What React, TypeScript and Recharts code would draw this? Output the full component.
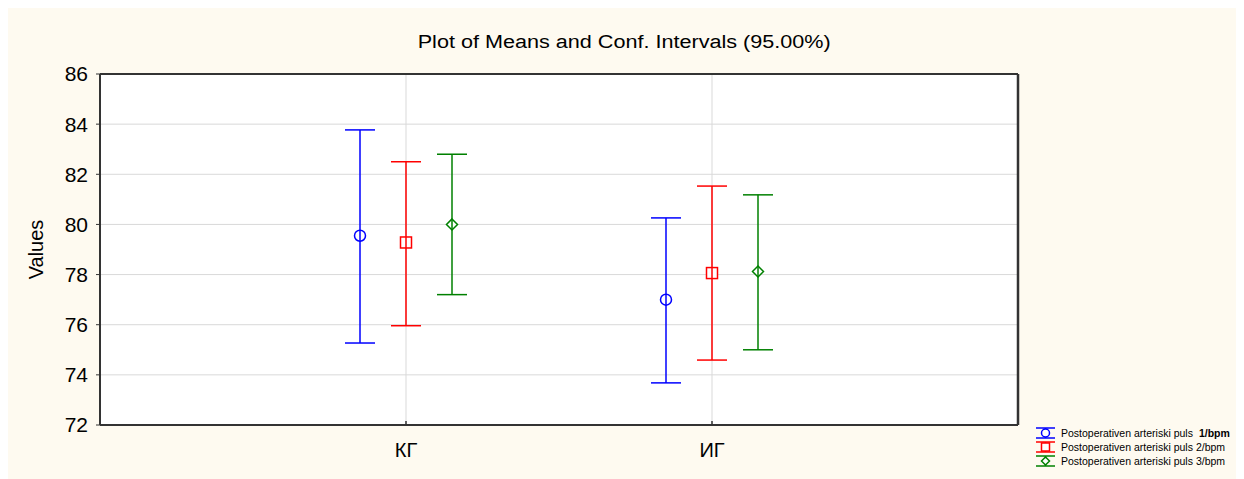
import React from 'react';
import {
  ComposedChart,
  Bar,
  ErrorBar,
  XAxis,
  YAxis,
  CartesianGrid,
  Legend,
  Label
} from 'recharts';

const groups = ['КГ', 'ИГ'];
const seriesNames = [
  'Postoperativen arteriski puls 1/bpm',
  'Postoperativen arteriski puls 2/bpm',
  'Postoperativen arteriski puls 3/bpm'
];
const seriesColors = ['#0000ff', '#ff0000', '#008000'];
const seriesMarkers = ['circle', 'square', 'diamond'];

// means and 95% confidence limits, one value per group
const puls1Mean = [79.55, 77.0];
const puls1Low = [75.27, 73.68];
const puls1High = [83.77, 80.26];
const puls2Mean = [79.28, 78.06];
const puls2Low = [75.96, 74.59];
const puls2High = [82.5, 81.53];
const puls3Mean = [80.0, 78.12];
const puls3Low = [77.2, 75.0];
const puls3High = [82.8, 81.18];

const yTicks = [72, 74, 76, 78, 80, 82, 84, 86];

const means = [puls1Mean, puls2Mean, puls3Mean];
const lows = [puls1Low, puls2Low, puls3Low];
const highs = [puls1High, puls2High, puls3High];

const data = groups.map((group, i) => {
  const row: Record<string, any> = { group };
  means.forEach((m, s) => {
    row[`m${s}`] = m[i];
    row[`e${s}`] = [m[i] - lows[s][i], highs[s][i] - m[i]];
  });
  return row;
});

const FONT = '"Liberation Sans", Arial, sans-serif';
const AXIS = '#333333';
const GRID = '#d9d9d9';

const Marker = ({ kind, cx, cy, size, color }: any) => {
  const h = size / 2;
  if (kind === 'circle') {
    return <circle cx={cx} cy={cy} r={h} fill="#fff" stroke={color} strokeWidth={1.5} />;
  }
  if (kind === 'square') {
    return <rect x={cx - h} y={cy - h} width={size} height={size} fill="#fff" stroke={color} strokeWidth={1.5} />;
  }
  return (
    <polygon
      points={`${cx},${cy - h} ${cx + h},${cy} ${cx},${cy + h} ${cx - h},${cy}`}
      fill="#fff"
      stroke={color}
      strokeWidth={1.5}
    />
  );
};

const renderLegend = () => (
  <svg width={212} height={48} style={{ display: 'block' }}>
    {seriesNames.map((name, i) => {
      const cy = 11 + i * 14;
      const color = seriesColors[i];
      const parts = name.split(' ');
      const unit = parts.pop();
      return (
        <g key={name}>
          <line x1={2} x2={21} y1={cy - 5} y2={cy - 5} stroke={color} strokeWidth={1.5} />
          <line x1={2} x2={21} y1={cy + 5} y2={cy + 5} stroke={color} strokeWidth={1.5} />
          <line x1={11.5} x2={11.5} y1={cy - 5} y2={cy + 5} stroke={color} strokeWidth={1.5} />
          <Marker kind={seriesMarkers[i]} cx={11.5} cy={cy} size={8} color={color} />
          <text x={27} y={cy + 3.5} fontSize={10.5} fontFamily={FONT} fill="#000">
            {parts.join(' ')}
            <tspan dx={i === 0 ? 6 : 3} fontWeight={i === 0 ? 'bold' : 'normal'}>{unit}</tspan>
          </text>
        </g>
      );
    })}
  </svg>
);

export default function App() {
  return (
    <div style={{ position: 'relative', width: 1236, height: 471, background: '#fefaf0' }}>
      <div
        style={{
          position: 'absolute',
          left: 0,
          top: 24,
          width: 1236,
          textAlign: 'center',
          fontFamily: FONT,
          fontSize: 18,
          lineHeight: '20px',
          color: '#000',
          transform: 'scaleX(1.2)',
          transformOrigin: '627px 0'
        }}
      >
        Plot of Means and Conf. Intervals (95.00%)
      </div>
      <ComposedChart
        width={1236}
        height={471}
        data={data}
        margin={{ top: 65, right: 225, bottom: 24, left: 0 }}
        barGap={36}
        style={{ fontFamily: FONT }}
      >
        <CartesianGrid stroke={GRID} fill="#fff" horizontalValues={yTicks} />
        <XAxis
          dataKey="group"
          height={30}
          padding={{ left: 153, right: 153 }}
          tickSize={-4}
          tickMargin={22}
          tick={{ fill: '#000', fontSize: 20 }}
          axisLine={{ stroke: AXIS, strokeWidth: 2 }}
          tickLine={{ stroke: AXIS, strokeWidth: 1.5 }}
        />
        <XAxis
          xAxisId="top"
          orientation="top"
          dataKey="group"
          height={1}
          padding={{ left: 153, right: 153 }}
          tickSize={-4}
          tick={false}
          axisLine={{ stroke: AXIS, strokeWidth: 2 }}
          tickLine={{ stroke: AXIS, strokeWidth: 1.5 }}
        />
        <YAxis
          width={92}
          domain={[72, 86]}
          ticks={yTicks}
          type="number"
          tickSize={4}
          tickMargin={8}
          tick={{ fill: '#000', fontSize: 21 }}
          axisLine={{ stroke: AXIS, strokeWidth: 2 }}
          tickLine={{ stroke: AXIS, strokeWidth: 1 }}
        >
          <Label
            content={({ viewBox }: any) => {
              const x = viewBox.x + 28;
              const y = viewBox.y + viewBox.height / 2;
              return (
                <text
                  x={x}
                  y={y}
                  transform={`rotate(-90 ${x} ${y})`}
                  textAnchor="middle"
                  dominantBaseline="central"
                  fontSize={20}
                  fontFamily={FONT}
                  fill="#000"
                >
                  Values
                </text>
              );
            }}
          />
        </YAxis>
        <YAxis
          yAxisId="right"
          orientation="right"
          width={1}
          domain={[72, 86]}
          type="number"
          tick={false}
          tickLine={false}
          axisLine={{ stroke: AXIS, strokeWidth: 2.5 }}
        />
        {seriesNames.map((name, s) => (
          <Bar
            key={name}
            dataKey={`m${s}`}
            name={name}
            fill="none"
            barSize={10}
            isAnimationActive={false}
            shape={(p: any) => (
              <Marker kind={seriesMarkers[s]} cx={p.x + p.width / 2} cy={p.y} size={11} color={seriesColors[s]} />
            )}
          >
            <ErrorBar
              dataKey={`e${s}`}
              direction="y"
              width={15}
              stroke={seriesColors[s]}
              strokeWidth={1.5}
              isAnimationActive={false}
            />
          </Bar>
        ))}
        <Legend
          layout="vertical"
          align="center"
          verticalAlign="middle"
          wrapperStyle={{ left: 1026, top: 414, width: 212, height: 48 }}
          content={renderLegend}
        />
      </ComposedChart>
    </div>
  );
}
